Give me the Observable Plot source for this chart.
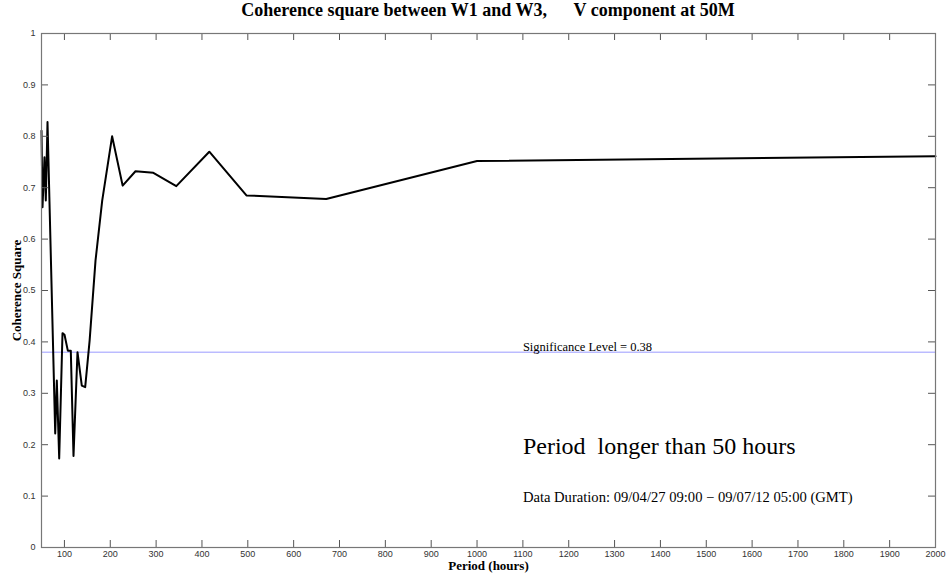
<!DOCTYPE html>
<html><head><meta charset="utf-8">
<script src="https://cdn.jsdelivr.net/npm/d3@7"></script>
<script src="https://cdn.jsdelivr.net/npm/@observablehq/plot@0.6"></script>
<style>
body{margin:0;background:#fff;width:946px;height:576px;overflow:hidden}
#title{height:22px;line-height:30px;padding-left:30px;text-align:center;white-space:pre;font:bold 18px "Liberation Serif","Times New Roman",serif;color:#000;overflow:visible}
svg text{white-space:pre}
</style></head><body>
<div id="title"></div>
<div id="chart"></div>
<script>
const titleText = "Coherence square between W1 and W3,      V component at 50M";
const xLabel = "Period (hours)";
const yLabel = "Coherence Square";
// period (hours) of each spectral estimate and its coherence square
const periods   = [50, 52.2, 56.5, 59.4, 63.1, 79.9, 83.4, 88.6, 95.8, 100.2, 107.4, 113.9, 119.8, 128.5, 137.9, 145.3, 155, 167.8, 182.4, 204, 227, 255, 294, 344, 416, 497, 671, 1000, 2000];
const coherence = [0.811, 0.662, 0.759, 0.675, 0.828, 0.222, 0.325, 0.173, 0.417, 0.414, 0.383, 0.383, 0.178, 0.380, 0.315, 0.312, 0.403, 0.558, 0.675, 0.800, 0.704, 0.732, 0.729, 0.703, 0.770, 0.685, 0.678, 0.752, 0.761];
const xTicks = [100,200,300,400,500,600,700,800,900,1000,1100,1200,1300,1400,1500,1600,1700,1800,1900,2000];
const yTicks = [0,0.1,0.2,0.3,0.4,0.5,0.6,0.7,0.8,0.9,1];
const sigLevel = 0.38;
const sigText = "Significance Level = 0.38";
const noteText = "Period  longer than 50 hours";
const durationText = "Data Duration: 09/04/27 09:00 \u2212 09/07/12 05:00 (GMT)";

document.getElementById("title").textContent = titleText;

const data = periods.map((p, i) => ({p, v: coherence[i]}));
const W = 946, H = 554, mL = 41, mR = 11, mT = 11, mB = 29;
const fw = W - mL - mR, fh = H - mT - mB, tl = 7;
const serif = "'Liberation Serif','Times New Roman',serif";
const sans = "'Liberation Sans Narrow','Liberation Sans',Arial,sans-serif";

const chart = Plot.plot({
  width: W, height: H,
  marginLeft: mL, marginRight: mR, marginTop: mT, marginBottom: mB,
  style: {fontFamily: sans, background: "#fff", color: "#000", overflow: "visible"},
  x: {domain: [50, 2000]},
  y: {domain: [0, 1]},
  marks: [
    Plot.ruleY([sigLevel], {stroke: "#9a9aff", strokeWidth: 1}),
    Plot.line(data, {x: "p", y: "v", stroke: "#000", strokeWidth: 2}),
    Plot.tickX(xTicks, {x: d => d, stroke: "#555", insetTop: fh - tl}),
    Plot.tickX(xTicks, {x: d => d, stroke: "#555", insetBottom: fh - tl}),
    Plot.tickY(yTicks, {y: d => d, stroke: "#555", insetRight: fw - tl}),
    Plot.tickY(yTicks, {y: d => d, stroke: "#555", insetLeft: fw - tl}),
    Plot.frame({stroke: "#777", strokeWidth: 1.2}),
    Plot.axisX(xTicks, {tickSize: 0, tickPadding: 3, fontSize: 9, fill: "#333", label: null, tickFormat: d => String(d)}),
    Plot.axisY(yTicks, {tickSize: 0, tickPadding: 6, fontSize: 9, fill: "#333", label: null, tickFormat: d => String(d)}),
    Plot.text([xLabel], {text: d => d, frameAnchor: "bottom", dy: 22, fontFamily: serif, fontWeight: "bold", fontSize: 13}),
    Plot.text([yLabel], {text: d => d, frameAnchor: "left", textAnchor: "middle", rotate: -90, dx: -25, fontFamily: serif, fontWeight: "bold", fontSize: 13}),
    Plot.text([{p: 1100, v: sigLevel, t: sigText}], {x: "p", y: "v", text: "t", textAnchor: "start", dy: -5, fontFamily: serif, fontSize: 12.5}),
    Plot.text([{p: 1100, v: 0.196, t: noteText}], {x: "p", y: "v", text: "t", textAnchor: "start", fontFamily: serif, fontSize: 24}),
    Plot.text([{p: 1100, v: 0.097, t: durationText}], {x: "p", y: "v", text: "t", textAnchor: "start", fontFamily: serif, fontSize: 14.6})
  ]
});
document.getElementById("chart").appendChild(chart);
</script>
</body></html>
